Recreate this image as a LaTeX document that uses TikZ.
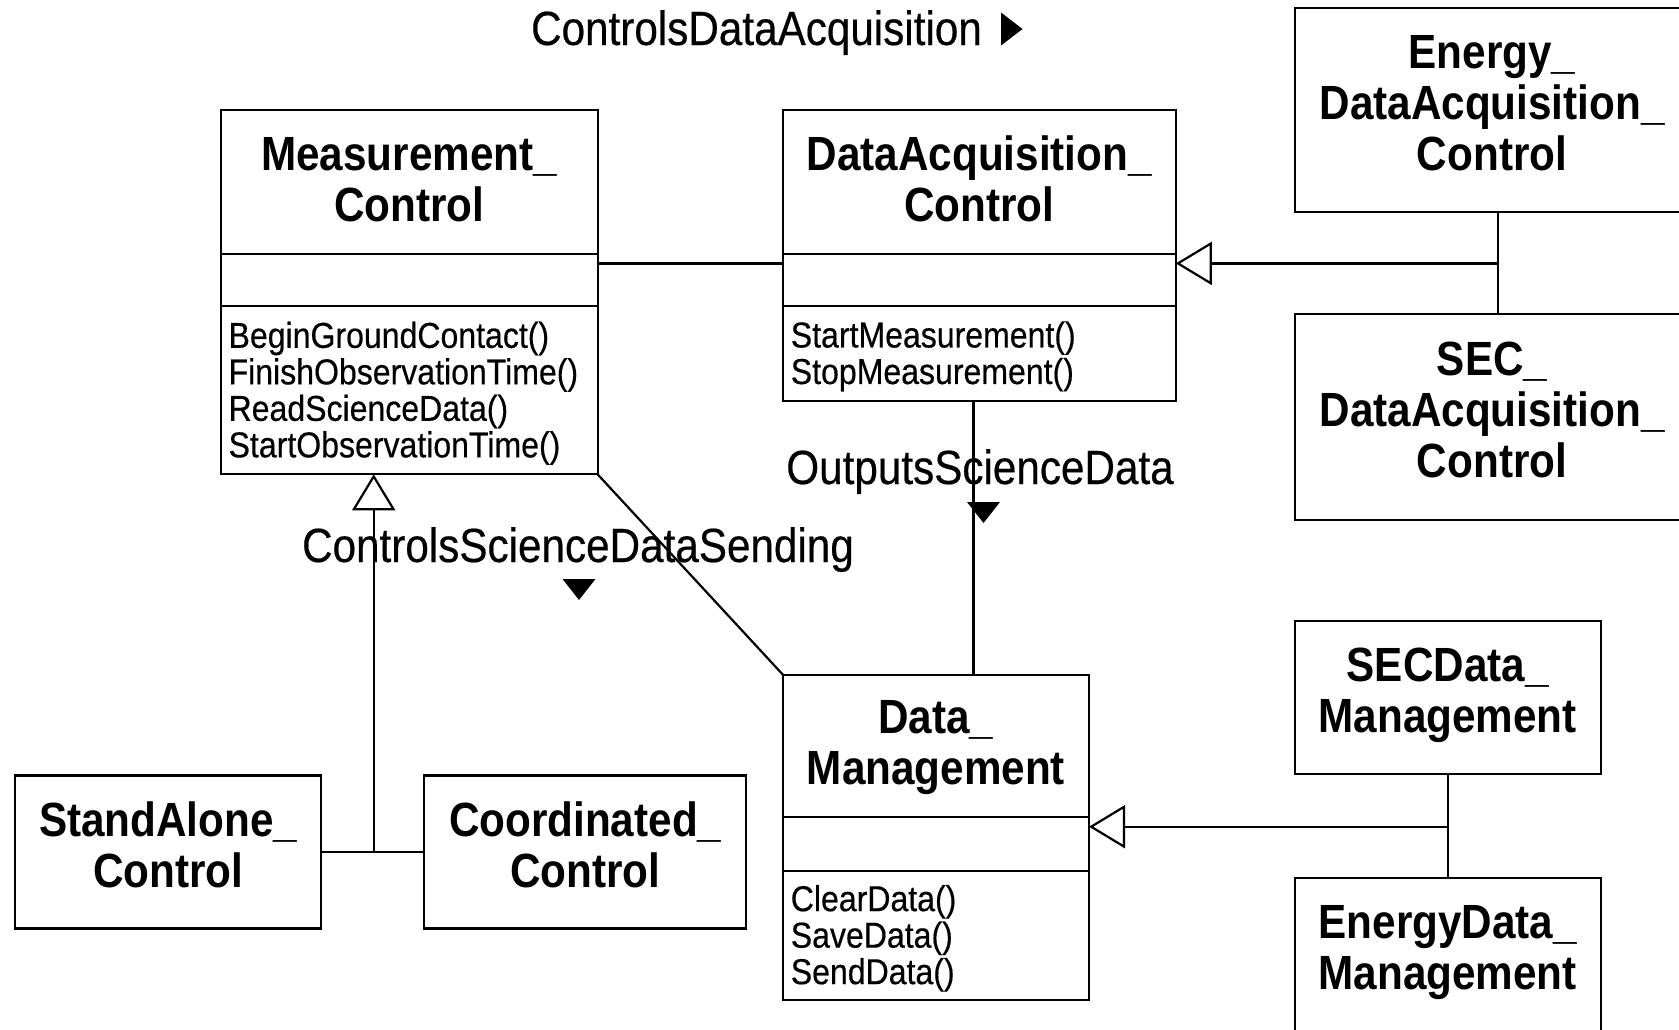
\documentclass[tikz,border=0pt]{standalone}
\usepackage{fontspec}
\setmainfont{Liberation Sans}
\newfontfamily\umlsans[FakeStretch=0.88]{Liberation Sans}
\newfontfamily\umlreg[FakeStretch=0.88, FakeBold=0.4]{Liberation Sans}
\newfontfamily\umlops[FakeStretch=0.89, FakeBold=0.4]{Liberation Sans}
\usetikzlibrary{positioning,arrows.meta}
\newcommand\namefont{\umlsans\bfseries\fontsize{48}{51}\selectfont}
\newcommand\opsfont{\umlops\fontsize{36}{36.5}\selectfont}
\newcommand\lblfont{\umlreg\fontsize{48}{50}\selectfont}
\tikzset{
  umlbox/.style={draw, line width=2.2pt, inner sep=0pt, outer sep=0pt},
  clsname/.style={umlbox, align=center, font=\namefont, minimum height=143.5pt, text depth=6pt},
  clsattr/.style={umlbox, minimum height=52.5pt},
  clsops/.style={umlbox, align=left, font=\opsfont, inner xsep=8pt, text width=#1, text height=32pt},
  clsplain/.style={umlbox, align=center, font=\namefont, minimum width=306pt, minimum height=153pt, text depth=14pt},
  lbl/.style={font=\lblfont, anchor=base, inner sep=0pt},
  assoc/.style={line width=2.2pt},
  inherit/.style={line width=2.2pt, -{Triangle[open, length=36pt, width=43pt]}},
  dirmark/.style={fill=black}
}
\begin{document}
\begin{tikzpicture}[x=1pt, y=-1pt]
\clip (0,0) rectangle (1679,1029);
% classes with compartments
\node[clsname, minimum width=377pt, anchor=north west] (mcname) at (220.6,110.3) {Measurement\_\\Control};
\node[clsattr, minimum width=377pt, below=0pt of mcname] (mcattr) {};
\node[clsops=361pt, minimum height=168pt, below=0pt of mcattr] (mcops) {BeginGroundContact()\\FinishObservationTime()\\ReadScienceData()\\StartObservationTime()};
\node[clsname, minimum width=393pt, anchor=north west] (dacname) at (782.8,110.3) {DataAcquisition\_\\Control};
\node[clsattr, minimum width=393pt, below=0pt of dacname] (dacattr) {};
\node[clsops=377pt, minimum height=94.3pt, below=0pt of dacattr] (dacops) {StartMeasurement()\\StopMeasurement()};
\node[clsname, minimum width=306.2pt, minimum height=142pt, anchor=north west] (dmname) at (782.8,674.6) {Data\_\\Management};
\node[clsattr, minimum width=306.2pt, minimum height=54pt, below=0pt of dmname] (dmattr) {};
\node[clsops=290.2pt, minimum height=129.5pt, below=0pt of dmattr] (dmops) {ClearData()\\SaveData()\\SendData()};
% plain classes
\node[clsplain, minimum width=394pt, minimum height=204.5pt] (edac) at (1492,110) {Energy\_\\DataAcquisition\_\\Control};
\node[clsplain, minimum width=394pt, minimum height=206.5pt] (sdac) at (1492,417) {SEC\_\\DataAcquisition\_\\Control};
\node[clsplain] (sacls) at (168.1,851.9) {StandAlone\_\\Control};
\node[clsplain, minimum width=322pt] (cocls) at (585.2,851.9) {Coordinated\_\\Control};
\node[clsplain] (secdm) at (1447.7,697.6) {SECData\_\\Management};
\node[clsplain] (endm) at (1447.7,954.5) {EnergyData\_\\Management};
% junctions
\coordinate (jdac) at (1498,263.4);
\coordinate (osd) at (973.4,0);
\coordinate (jmc) at (373.7,851.3);
\coordinate (jdm) at (1447.7,826.7);
% connectors
\draw[assoc] (mcattr.east |- jdac) -- (dacattr.west |- jdac);
\draw[assoc] (edac.south -| jdac) -- (sdac.north -| jdac);
\draw[inherit] (jdac) -- (dacattr.east |- jdac);
\draw[assoc] (dacops.south -| osd) -- (dmname.north -| osd);
\draw[assoc] (mcops.south east) -- (dmname.north west);
\draw[assoc] (sacls.east) -- (cocls.west);
\draw[inherit] (jmc) -- (mcops.south -| jmc);
\draw[assoc] (secdm.south) -- (endm.north);
\draw[inherit] (jdm) -- (dmattr.east |- jdm);
% association names
\node[lbl] (cdalbl) at (756.5,45) {ControlsDataAcquisition};
\node[lbl] (osdlbl) at (980,484) {OutputsScienceData};
\node[lbl] (csdlbl) at (578,562) {ControlsScienceDataSending};
\fill[dirmark] (1001,12.5) -- ++(21.5,16.5) -- ++(-21.5,16.5) -- cycle;
\fill[dirmark] (967,502) -- ++(33,0) -- ++(-16.5,21) -- cycle;
\fill[dirmark] (562.5,579) -- ++(33,0) -- ++(-16.5,21) -- cycle;
\end{tikzpicture}
\end{document}
